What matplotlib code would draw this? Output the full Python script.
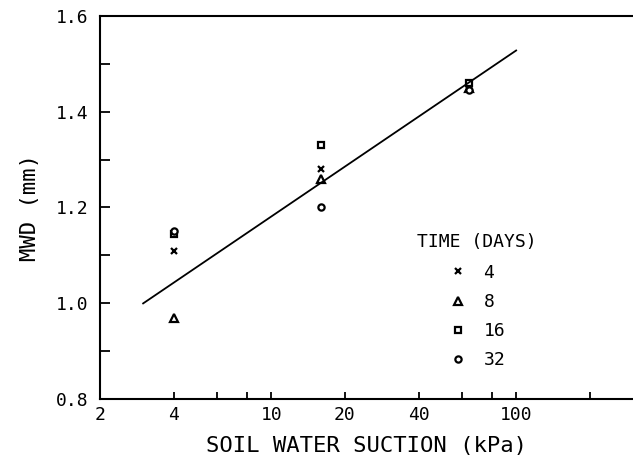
import matplotlib.pyplot as plt
import numpy as np
from matplotlib.ticker import FixedLocator, NullLocator, FixedFormatter

# soil water suction (kPa) at each sampling
suction = [4, 16, 64]

# MWD (mm) for each incubation time (days)
days = ['4', '8', '16', '32']
mwd_4 = [1.11, 1.28, 1.455]
mwd_8 = [0.97, 1.26, 1.45]
mwd_16 = [1.145, 1.33, 1.46]
mwd_32 = [1.15, 1.20, 1.445]

# regression line MWD = a + b*log10(suction)
fit_a = 0.834
fit_b = 0.347
fit_x = [3, 100]

plt.rcParams['font.family'] = ['DejaVu Sans Mono']

fig = plt.figure(figsize=(6.33, 4.58), dpi=100)
ax = fig.add_axes([0.158, 0.129, 0.842, 0.836])

series = [mwd_4, mwd_8, mwd_16, mwd_32]
markers = ['x', '^', 's', 'o']
sizes = [4.5, 5.5, 4.5, 4.5]
for vals, m, s, lab in zip(series, markers, sizes, days):
    if m == 'x':
        ax.plot(suction, vals, ls='none', marker=m, ms=s, mew=1.6,
                color='black', label=lab)
    else:
        ax.plot(suction, vals, ls='none', marker=m, ms=s, mew=1.6,
                mfc='white', mec='black', label=lab)

lx = np.array(fit_x, dtype=float)
ax.plot(lx, fit_a + fit_b * np.log10(lx), color='black', lw=1.3)

ax.set_xscale('log')
ax.set_xlim(2, 300)
ax.set_ylim(0.8, 1.6)

xt = [2, 4, 6, 8, 10, 20, 40, 60, 80, 100, 200]
xl = ['2', '4', '', '', '10', '20', '40', '', '', '100', '']
ax.xaxis.set_major_locator(FixedLocator(xt))
ax.xaxis.set_major_formatter(FixedFormatter(xl))
ax.xaxis.set_minor_locator(NullLocator())
ax.yaxis.set_major_locator(FixedLocator([0.8, 1.0, 1.2, 1.4, 1.6]))
ax.yaxis.set_major_formatter(FixedFormatter(['0.8', '1.0', '1.2', '1.4', '1.6']))
ax.yaxis.set_minor_locator(FixedLocator([0.9, 1.1, 1.3, 1.5]))

ax.tick_params(which='both', direction='in', width=1.3, labelsize=13)
ax.tick_params(axis='y', which='major', length=7, pad=8)
ax.tick_params(axis='y', which='minor', length=7)
ax.tick_params(axis='x', which='major', length=5, pad=5)
ax.spines['right'].set_visible(False)
for s in ['left', 'bottom', 'top']:
    ax.spines[s].set_linewidth(1.5)

ax.set_xlabel('SOIL WATER SUCTION (kPa)', fontsize=16, labelpad=9)
ax.set_ylabel('MWD (mm)', fontsize=16, labelpad=12)

leg = ax.legend(title='TIME (DAYS)', loc='upper left',
                bbox_to_anchor=(0.565, 0.475), frameon=False,
                fontsize=13, title_fontsize=13, handlelength=1,
                handletextpad=0.9, labelspacing=0.62)
leg._legend_box.sep = 9

fig.savefig('out.png', dpi=100)
plt.close()
